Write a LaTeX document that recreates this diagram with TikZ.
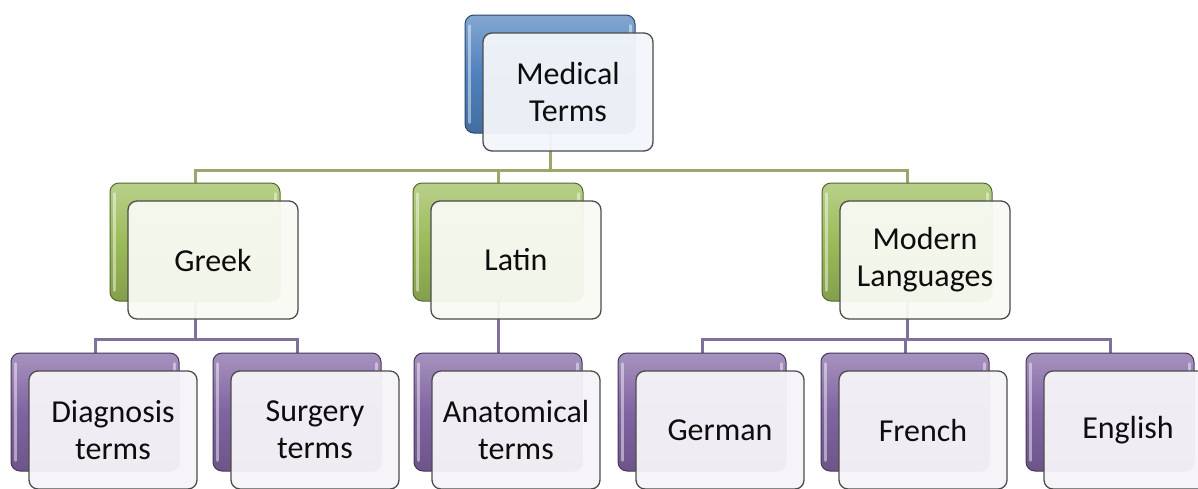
\documentclass[tikz,border=0pt]{standalone}
\usepackage{fontspec}
\setmainfont{Carlito}
\usetikzlibrary{calc}
\definecolor{mtblue}{HTML}{4F81BD}
\definecolor{mtgreen}{HTML}{9BBB59}
\definecolor{mtpurple}{HTML}{8064A2}
\definecolor{mtgreenline}{HTML}{98A86A}
\definecolor{mtpurpleline}{HTML}{7F719C}
\pgfdeclarelayer{paper}
\pgfdeclarelayer{bg}
\pgfsetlayers{paper,bg,main}
\tikzset{
  backbox/.style={rounded corners=9pt, draw=#1!55!black, line width=1pt,
    top color=#1!70!white, bottom color=#1!85!black, middle color=#1,
    minimum height=118pt, inner sep=0pt},
  frontbox/.style={rounded corners=9pt, draw=black!70, line width=1.3pt,
    fill=#1!7!white, fill opacity=0.95, text opacity=1, text=black!95,
    minimum height=118pt, inner sep=0pt, align=center,
    font=\fontsize{32}{37}\selectfont},
  wide/.style={minimum width=170pt},
  narrow/.style={minimum width=168pt},
  gleam/.style={white, opacity=0.45, line width=2.5pt, line cap=round},
  greenlink/.style={draw=mtgreenline, line width=3pt},
  purplelink/.style={draw=mtpurpleline, line width=3pt},
}
% a two-layer box: coloured card behind, pale card with the label in front
\newcommand{\cardpair}[6]{% name, colour, width style, x, y, label
  \node[backbox=#2, #3] (#1B) at (#4,#5) {};
  \draw[gleam] ($(#1B.north west)+(5,11)$) -- ($(#1B.south west)+(5,-11)$);
  \draw[gleam] ($(#1B.north east)+(-5,11)$) -- ($(#1B.north east)+(-5,22)$);
  \node[frontbox=#2, #3] (#1) at ($(#4,#5)+(18,18)$) {#6};
}
\begin{document}
\begin{tikzpicture}[x=1pt, y=-1pt]
  \clip (0,0) rectangle (1198,488);
  \begin{pgfonlayer}{paper}
    \fill[white] (0,0) rectangle (1198,488);
  \end{pgfonlayer}

  % root
  \cardpair{med}{mtblue}{wide}{550}{74}{Medical\\Terms}
  % languages of origin
  \cardpair{greek}{mtgreen}{wide}{195}{242}{Greek}
  \cardpair{latin}{mtgreen}{wide}{498}{242}{Latin}
  \cardpair{modern}{mtgreen}{wide}{907}{242}{Modern\\Languages}
  % kinds of terms
  \cardpair{diag}{mtpurple}{narrow}{95}{412}{Diagnosis\\terms}
  \cardpair{surg}{mtpurple}{narrow}{297}{412}{Surgery\\terms}
  \cardpair{anat}{mtpurple}{narrow}{498}{412}{Anatomical\\terms}
  \cardpair{german}{mtpurple}{narrow}{702}{412}{German}
  \cardpair{french}{mtpurple}{narrow}{905}{412}{French}
  \cardpair{english}{mtpurple}{narrow}{1110}{412}{English}

  \coordinate (busTop) at (0,170);
  \coordinate (busLow) at (0,339);

  \begin{pgfonlayer}{bg}
    % root to the three origins
    \draw[greenlink] (medB.center) -- (medB.center |- busTop);
    \draw[greenlink] (greekB.north) -- (greekB.north |- busTop)
      -- (modernB.north |- busTop) -- (modernB.north);
    \draw[greenlink] (latinB.north) -- (latinB.north |- busTop);
    % Greek branch
    \draw[purplelink] (greekB.center) -- (greekB.center |- busLow);
    \draw[purplelink] (diagB.north) -- (diagB.north |- busLow)
      -- (surgB.north |- busLow) -- (surgB.north);
    % Latin branch
    \draw[purplelink] (latinB.center) -- (anatB.north);
    % modern languages branch
    \draw[purplelink] (modernB.center) -- (modernB.center |- busLow);
    \draw[purplelink] (germanB.north) -- (germanB.north |- busLow)
      -- (englishB.north |- busLow) -- (englishB.north);
    \draw[purplelink] (frenchB.north) -- (frenchB.north |- busLow);
  \end{pgfonlayer}
\end{tikzpicture}
\end{document}
